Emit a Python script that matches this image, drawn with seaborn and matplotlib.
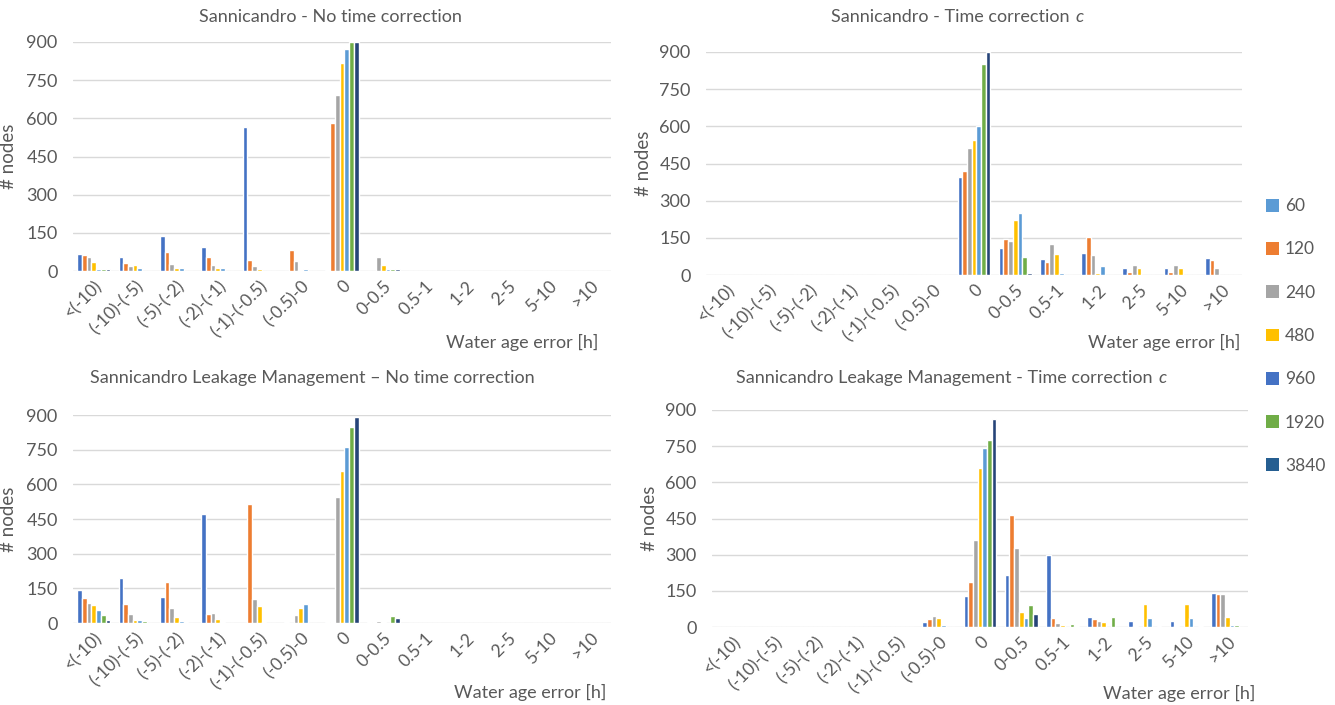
import numpy as np
import pandas as pd
import seaborn as sns
import matplotlib.pyplot as plt
from matplotlib.patches import Patch

categories = ["<(-10)", "(-10)-(-5)", "(-5)-(-2)", "(-2)-(-1)", "(-1)-(-0.5)", "(-0.5)-0",
              "0", "0-0.5", "0.5-1", "1-2", "2-5", "5-10", ">10"]
steps = ["60", "120", "240", "480", "960", "1920", "3840"]

# one row per category, one column per time step (60 ... 3840)
sann_no_corr = [
    [68, 63, 55, 34, 9, 9, 7],
    [54, 30, 20, 22, 12, 0, 0],
    [139, 75, 26, 12, 13, 0, 0],
    [96, 54, 25, 12, 12, 0, 0],
    [564, 43, 20, 7, 0, 0, 0],
    [0, 83, 39, 5, 6, 0, 0],
    [3, 580, 692, 818, 872, 900, 900],
    [0, 0, 54, 25, 7, 7, 7],
    [0, 0, 0, 0, 0, 0, 0],
    [0, 0, 0, 0, 0, 0, 0],
    [0, 0, 0, 0, 0, 0, 0],
    [0, 0, 0, 0, 0, 0, 0],
    [0, 0, 0, 0, 0, 0, 0],
]
sann_corr = [
    [0, 0, 0, 0, 0, 0, 0],
    [0, 0, 0, 0, 0, 0, 0],
    [0, 0, 0, 0, 0, 0, 0],
    [0, 0, 0, 0, 0, 0, 0],
    [0, 0, 0, 0, 0, 0, 0],
    [0, 0, 0, 0, 0, 0, 0],
    [394, 419, 512, 546, 603, 851, 900],
    [107, 146, 136, 223, 250, 71, 8],
    [63, 52, 126, 85, 8, 0, 0],
    [87, 153, 81, 7, 38, 0, 0],
    [28, 13, 40, 30, 0, 0, 0],
    [28, 13, 40, 30, 0, 0, 0],
    [70, 60, 27, 0, 0, 0, 0],
]
leak_no_corr = [
    [141, 109, 88, 78, 55, 36, 14],
    [194, 82, 40, 12, 14, 9, 0],
    [114, 178, 65, 26, 10, 6, 0],
    [473, 39, 42, 17, 4, 0, 0],
    [0, 515, 106, 73, 4, 0, 0],
    [6, 0, 36, 65, 83, 0, 0],
    [4, 4, 545, 657, 760, 848, 891],
    [3, 6, 9, 6, 0, 29, 22],
    [0, 0, 0, 0, 0, 0, 0],
    [0, 0, 0, 0, 0, 0, 0],
    [0, 0, 0, 0, 0, 0, 0],
    [0, 0, 0, 0, 0, 0, 0],
    [0, 0, 0, 0, 0, 0, 0],
]
leak_corr = [
    [0, 0, 0, 0, 0, 0, 0],
    [0, 0, 0, 0, 0, 0, 0],
    [0, 0, 0, 0, 0, 0, 0],
    [0, 0, 0, 0, 0, 0, 0],
    [0, 0, 0, 0, 0, 0, 0],
    [22, 32, 44, 39, 7, 0, 0],
    [130, 186, 362, 658, 743, 776, 861],
    [215, 464, 326, 64, 36, 92, 55],
    [298, 37, 17, 10, 0, 12, 4],
    [43, 35, 23, 22, 0, 40, 0],
    [25, 6, 0, 97, 36, 0, 6],
    [25, 6, 0, 97, 36, 0, 6],
    [140, 137, 137, 40, 7, 7, 0],
]

# (plain part, italic part)
titles = [("Sannicandro - No time correction", ""),
          ("Sannicandro - Time correction ", "c"),
          ("Sannicandro Leakage Management \u2013 No time correction", ""),
          ("Sannicandro Leakage Management - Time correction ", "c")]

bar_colors = ["#4472C4", "#ED7D31", "#A5A5A5", "#FFC000", "#5B9BD5", "#70AD47", "#264478"]
legend_colors = ["#5B9BD5", "#ED7D31", "#A5A5A5", "#FFC000", "#4472C4", "#70AD47", "#255E91"]

sns.set_theme(style="white")
plt.rcParams["font.family"] = ["Lato", "DejaVu Sans"]
txt = "#595959"
W, H = 1335, 705

fig = plt.figure(figsize=(W / 100, H / 100), dpi=100)
renderer = fig.canvas.get_renderer()
# pixel boxes: x0, x1, y(0), y(900)
pix = [(73, 611, 271, 42), (706, 1242, 275, 52), (73, 611, 623, 415), (712, 1248, 627, 410)]
ylab_x = [17, 652, 17, 658]
title_pos = [(330, 17), (957, 17), (312, 378), (951, 378)]
xlabel_pos = [(598, 342), (1240, 342), (606, 692), (1255, 693)]

for i, (data, title) in enumerate(zip([sann_no_corr, sann_corr, leak_no_corr, leak_corr], titles)):
    x0, x1, yb, yt = pix[i]
    ax = fig.add_axes([x0 / W, 1 - yb / H, (x1 - x0) / W, (yb - yt) / H])
    df = pd.DataFrame(data, index=categories, columns=steps)
    long = df.reset_index().melt(id_vars="index", var_name="step", value_name="n")
    long = long.rename(columns={"index": "cat"})
    sns.barplot(data=long, x="cat", y="n", hue="step", hue_order=steps,
                order=categories, palette=bar_colors, width=0.8, gap=0,
                saturation=1, legend=False, ax=ax)
    ax.set_ylim(0, 900)
    ax.set_yticks(np.arange(0, 901, 150))
    ax.set_xlim(-0.5, len(categories) - 0.5)
    ax.yaxis.grid(True, color="#D9D9D9", linewidth=1)
    ax.set_axisbelow(True)
    for s in ax.spines.values():
        s.set_visible(False)
    ax.tick_params(axis="both", length=0, colors=txt)
    ax.tick_params(axis="y", labelsize=13, pad=11)
    ax.tick_params(axis="x", pad=5)
    ax.set_xticks(range(len(categories)))
    ax.set_xticklabels(categories, rotation=45, ha="right", rotation_mode="anchor",
                       fontsize=12.5, color=txt)
    ax.set_ylabel("# nodes", fontsize=13.5, color=txt)
    ax.yaxis.set_label_coords((ylab_x[i] - x0) / (x1 - x0), 0.5)
    ax.set_xlabel("")

    # title: plain text plus an italic "c", centred together
    tx, ty = title_pos[i]
    plain, ital = title
    t1 = fig.text(0, 1 - ty / H, plain, ha="left", va="center", fontsize=13, color=txt)
    w1 = t1.get_window_extent(renderer).width
    w2 = 0
    t2 = None
    if ital:
        t2 = fig.text(0, 1 - ty / H, ital, ha="left", va="center", fontsize=13,
                      color=txt, style="italic")
        w2 = t2.get_window_extent(renderer).width
    start = tx - (w1 + w2) / 2
    t1.set_x(start / W)
    if t2 is not None:
        t2.set_x((start + w1 + 1) / W)

    lx, ly = xlabel_pos[i]
    fig.text(lx / W, 1 - ly / H, "Water age error [h]", ha="right", va="center",
             fontsize=13, color=txt)

handles = [Patch(facecolor=c, edgecolor="none", label=s) for c, s in zip(legend_colors, steps)]
fig.legend(handles=handles, loc="center left", bbox_to_anchor=(1266 / W, 1 - 336 / H),
           frameon=False, fontsize=12.5, labelcolor=txt, handlelength=0.75, handleheight=0.75,
           handletextpad=0.35, labelspacing=1.57, borderpad=0, borderaxespad=0)

fig.savefig("out.png", dpi=100, facecolor="white")
